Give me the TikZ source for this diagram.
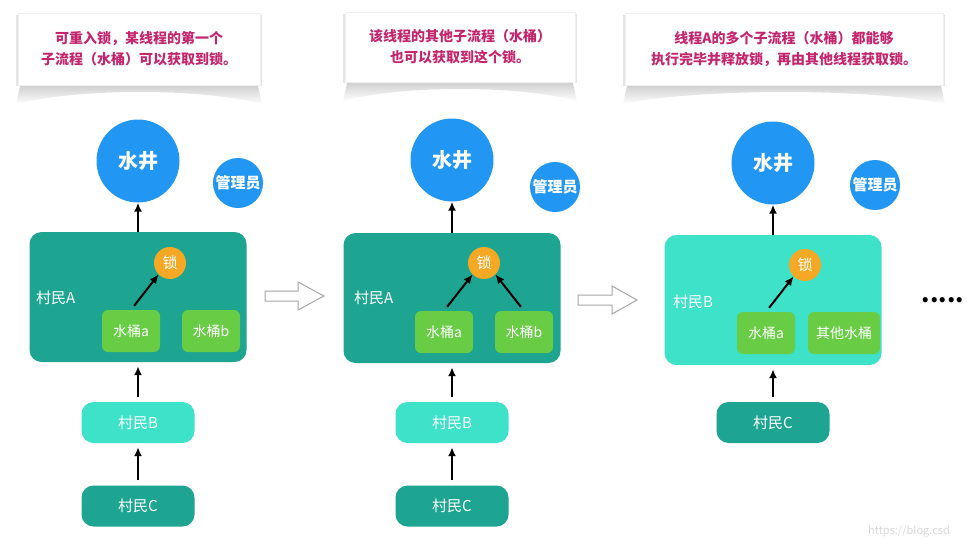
\documentclass[tikz,border=0pt]{standalone}
\usepackage{fontspec}
\setmainfont{Noto Sans CJK SC}
\usetikzlibrary{arrows.meta}
\definecolor{wellblue}{RGB}{33,150,243}
\definecolor{tealA}{RGB}{29,165,145}
\definecolor{aqua}{RGB}{62,226,200}
\definecolor{bucketgreen}{RGB}{104,204,68}
\definecolor{lockorange}{RGB}{245,168,35}
\definecolor{calltext}{RGB}{196,38,110}
\begin{document}
\begin{tikzpicture}[x=1pt,y=-1pt,
 well/.style={circle,fill=wellblue,text=white,minimum size=83pt,inner sep=0pt,font=\fontsize{20}{20}\selectfont\bfseries},
 mgr/.style={circle,fill=wellblue,text=white,minimum size=50pt,inner sep=0pt,font=\fontsize{15}{15}\selectfont\bfseries},
 lockc/.style={circle,fill=lockorange,text=white,minimum size=32pt,inner sep=0pt,font=\fontsize{15}{15}\selectfont},
 bigbox/.style={rectangle,rounded corners=12pt,minimum width=217pt,minimum height=130pt,inner sep=0pt},
 bucket/.style={rectangle,rounded corners=6pt,fill=bucketgreen,text=white,minimum width=58pt,minimum height=42pt,inner sep=0pt,font=\fontsize{14}{14}\selectfont},
 vill/.style={rectangle,rounded corners=12pt,text=white,minimum width=113pt,minimum height=41pt,inner sep=0pt,font=\fontsize{15}{15}\selectfont},
 vlabel/.style={text=white,anchor=west,inner sep=0pt,font=\fontsize{15}{15}\selectfont},
 arr/.style={-{Latex[length=9pt,width=8pt]},line width=2pt,black},
 gap/.style={shorten <=5pt,shorten >=4pt},
 callout/.style={rectangle,fill=white,draw=gray!12,align=center,text=calltext,inner sep=0pt,font=\fontsize{14}{21}\selectfont\bfseries},
 shadowc/.style={top color=gray!55,bottom color=white,opacity=0.8},
 sideshadow/.style={fill=gray!20},
 hollow/.style={draw=gray!70,fill=white,line width=1pt,line join=miter}
]
\useasboundingbox (0,0) rectangle (971,538);
\fill[white] (0,0) rectangle (971,538);

% ---------- callouts ----------
\shade[shadowc] (21,82) -- (16,104) .. controls (80,88) and (200,88) .. (262,104) -- (257,82) -- cycle;
\fill[sideshadow] (16,15) rectangle (262,86);
\node[callout,minimum width=242pt,minimum height=72pt] (c1) at (139,49) {可重入锁，某线程的第一个\\子流程（水桶）可以获取到锁。};
\shade[shadowc] (348,79) -- (343,101) .. controls (400,85) and (520,85) .. (577,101) -- (572,79) -- cycle;
\fill[sideshadow] (343,14) rectangle (577,83);
\node[callout,minimum width=230pt,minimum height=70pt] (c2) at (460,47) {该线程的其他子流程（水桶）\\也可以获取到这个锁。};
\shade[shadowc] (628,82) -- (623,104) .. controls (700,88) and (870,88) .. (945,104) -- (940,82) -- cycle;
\fill[sideshadow] (623,15) rectangle (945,86);
\node[callout,minimum width=318pt,minimum height=72pt] (c3) at (784,49) {线程A的多个子流程（水桶）都能够\\执行完毕并释放锁，再由其他线程获取锁。};

% ---------- panel 1 ----------
\node[well] (w1) at (138,161) {水井};
\node[mgr] (m1) at (238,183) {管理员};
\node[bigbox,fill=tealA] (a1) at (138,297) {};
\node[vlabel] (la1) at (36,298) {村民A};
\node[lockc] (k1) at (170,263) {锁};
\node[bucket] (ba1) at (131,331) {水桶a};
\node[bucket] (bb1) at (211,331) {水桶b};
\node[vill,fill=aqua] (vb1) at (138,422.5) {村民B};
\node[vill,fill=tealA] (vc1) at (138,506) {村民C};
\draw[arr] (a1.north) -- (w1.south);
\draw[arr,shorten <=5pt] (ba1.north) -- (k1.south west);
\draw[arr,gap] (vb1.north) -- (a1.south);
\draw[arr,gap] (vc1.north) -- (vb1.south);

% hollow arrow 1
\draw[hollow] (265,291) -- (298,291) -- (298,282) -- (324,296) -- (298,310) -- (298,301) -- (265,301) -- cycle;

% ---------- panel 2 ----------
\node[well] (w2) at (452,160) {水井};
\node[mgr] (m2) at (555,187) {管理员};
\node[bigbox,fill=tealA] (a2) at (452,298) {};
\node[vlabel] (la2) at (354,298) {村民A};
\node[lockc] (k2) at (484,263) {锁};
\node[bucket] (ba2) at (444,332) {水桶a};
\node[bucket] (bb2) at (524,332) {水桶b};
\node[vill,fill=aqua] (vb2) at (452,422.5) {村民B};
\node[vill,fill=tealA] (vc2) at (452,506) {村民C};
\draw[arr] (a2.north) -- (w2.south);
\draw[arr,shorten <=5pt] (ba2.north) -- (k2.south west);
\draw[arr,shorten <=5pt] (bb2.north) -- (k2.south east);
\draw[arr,gap] (vb2.north) -- (a2.south);
\draw[arr,gap] (vc2.north) -- (vb2.south);

% hollow arrow 2
\draw[hollow] (578,295) -- (612,295) -- (612,286) -- (637,300) -- (612,314) -- (612,305) -- (578,305) -- cycle;

% ---------- panel 3 ----------
\node[well] (w3) at (773,163) {水井};
\node[mgr] (m3) at (875,185) {管理员};
\node[bigbox,fill=aqua] (a3) at (773,300) {};
\node[vlabel] (la3) at (673,302) {村民B};
\node[lockc] (k3) at (805,265) {锁};
\node[bucket] (ba3) at (766,333) {水桶a};
\node[bucket,minimum width=72pt] (bb3) at (844,333) {其他水桶};
\node[vill,fill=tealA] (vc3) at (773,422.5) {村民C};
\draw[arr] (a3.north) -- (w3.south);
\draw[arr,shorten <=5pt] (ba3.north) -- (k3.south west);
\draw[arr,gap] (vc3.north) -- (a3.south);

\node[font=\fontsize{24}{24}\selectfont\bfseries,inner sep=0pt] (dots) at (943,300) {.....};
\node[text=gray!30,anchor=base west,inner sep=0pt,font=\fontsize{11}{11}\selectfont] (wm) at (868,534) {https://blog.csd};
\end{tikzpicture}
\end{document}
